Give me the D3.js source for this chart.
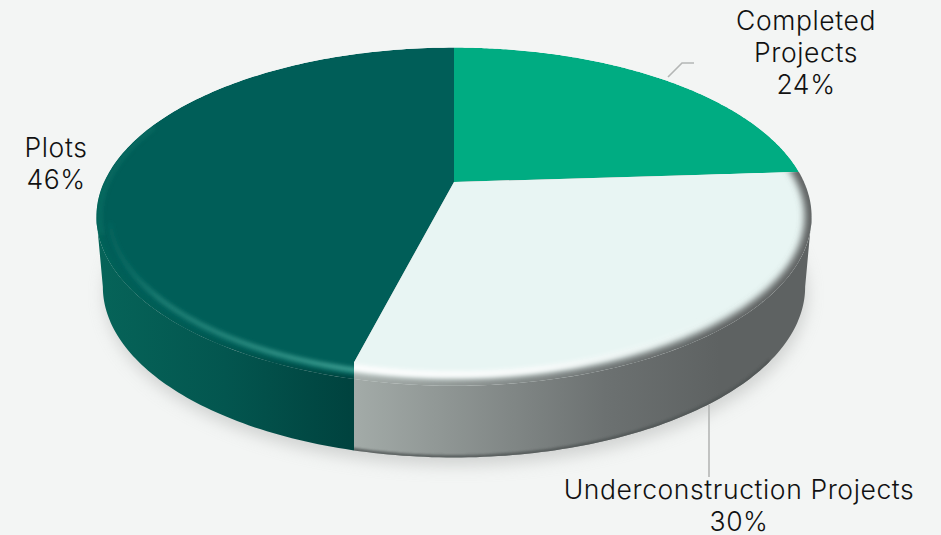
<!DOCTYPE html>
<html>
<head>
<meta charset="utf-8">
<script src="https://cdn.jsdelivr.net/npm/d3@7"></script>
<style>
html,body{margin:0;padding:0;background:#f3f5f4;overflow:hidden}
text{font-family:Inter,"Open Sans",sans-serif;font-weight:300;fill:#111;font-size:26.5px;letter-spacing:.6px}
</style>
</head>
<body>
<svg id="chart" width="941" height="535"></svg>
<script>
// Land-bank split shown as a tilted, bevelled 3D pie
const categories = ["Completed Projects", "Underconstruction Projects", "Plots"];
const shares = [24, 30, 46];
const faceColors = ["#00ac82", "#e8f5f3", "#005e58"];
const labelLines = [["Completed", "Projects", "24%"], ["Underconstruction Projects", "30%"], ["Plots", "46%"]];
const labelAnchors = [[806, 30], [739, 499], [56, 157]];
const leaderLines = [[[668, 77], [682, 63], [694, 63]], [[709, 405], [709, 477]]];

const svg = d3.select("#chart");
const defs = svg.append("defs");

// Perspective projection of the unit disc onto the page
const cx = 454, apexY = 182, tilt = 0.205, spanX = 350, spanY = 162;
const topPoint = (a, r = 1) => {
  const u = r * Math.sin(a), v = -r * Math.cos(a), w = 1 - tilt * v;
  return [cx + spanX * u / w, apexY + spanY * v / w];
};
// Lower rim: same curve, slightly narrower and dropped by the wall height
const basePoint = a => {
  const [x, y] = topPoint(a);
  return [cx + (x - cx) * 0.982, 286 + (y - 216) * 1.01];
};

const pieAngles = d3.pie().value(d => d).sort(null)(shares);
const line = d3.line();
const TAU = Math.PI * 2;
const arcPoints = (f, a0, a1, n = 160) => d3.range(n + 1).map(i => f(a0 + (a1 - a0) * i / n));

// Angles where the projected rim reaches its left and right extremes
const sideAngle = Math.acos(-tilt);

// The bevel turns the front seam vertical: find the outer-rim angle straight below it
const seamAngle = pieAngles[1].endAngle;
const seamInner = topPoint(seamAngle, 0.935);
const seamOuterAngle = d3.least(d3.range(seamAngle - 0.3, seamAngle + 0.3, 0.0005),
  a => Math.abs(topPoint(a)[0] - seamInner[0]));

const apex = [cx, apexY];
const slicePaths = [
  [apex, ...arcPoints(topPoint, pieAngles[0].startAngle, pieAngles[0].endAngle)],
  [apex, ...arcPoints(topPoint, pieAngles[1].startAngle, seamOuterAngle), seamInner],
  [apex, seamInner, ...arcPoints(topPoint, seamOuterAngle, pieAngles[2].endAngle)]
];

const addBlur = (id, dev) => defs.append("filter").attr("id", id)
  .attr("x", "-10%").attr("y", "-15%").attr("width", "120%").attr("height", "130%")
  .append("feGaussianBlur").attr("stdDeviation", dev);
addBlur("soft1", 1.2);
addBlur("soft2", 2.2);
addBlur("soft3", 3.6);
addBlur("soft8", 8);

const addGradient = (id, x1, x2, stops) => {
  const g = defs.append("linearGradient").attr("id", id).attr("gradientUnits", "userSpaceOnUse")
    .attr("x1", x1).attr("x2", x2).attr("y1", 0).attr("y2", 0);
  stops.forEach(([o, c, op = 1]) => g.append("stop").attr("offset", o).attr("stop-color", c).attr("stop-opacity", op));
};
addGradient("wallGreen", 96, seamInner[0], [[0, "#066459"], [0.5, "#03564f"], [1, "#00423e"]]);
addGradient("wallGrey", seamInner[0], 811, [[0, "#a3aba8"], [0.55, "#6c7171"], [0.8, "#5e6262"], [1, "#5e6262"]]);
addGradient("whiteLip", seamInner[0], 720, [[0, "#ffffff", 1], [0.5, "#ffffff", 0.85], [1, "#ffffff", 0]]);
addGradient("greenLip", 110, seamInner[0], [[0, "#1f8074", 0.15], [0.2, "#2c8e82", 0.7], [1, "#45a79a", 1]]);
defs.append("clipPath").attr("id", "wallLeft").append("rect")
  .attr("x", 0).attr("y", 0).attr("width", seamInner[0]).attr("height", 535);
defs.append("clipPath").attr("id", "wallRight").append("rect")
  .attr("x", seamInner[0]).attr("y", 0).attr("width", 941).attr("height", 535);
slicePaths.forEach((p, i) => defs.append("clipPath").attr("id", "face" + i)
  .append("path").attr("d", line(p) + "Z"));

// Soft ground shadow
svg.append("path").attr("d", line(arcPoints(basePoint, 0, TAU)) + "Z")
  .attr("transform", "translate(2,8)").attr("fill", "#b9bbba").attr("opacity", 0.6)
  .attr("filter", "url(#soft8)");

// Cylinder wall: hull between the two rims, from one side extreme round the front to the other
const wallOutline = line([
  ...arcPoints(topPoint, sideAngle, TAU - sideAngle),
  ...arcPoints(basePoint, TAU - sideAngle, sideAngle)
]) + "Z";
svg.append("path").attr("d", wallOutline).attr("fill", "url(#wallGreen)").attr("clip-path", "url(#wallLeft)");
const greyWall = svg.append("g").attr("clip-path", "url(#wallRight)");
greyWall.append("path").attr("d", wallOutline).attr("fill", "url(#wallGrey)");
defs.append("clipPath").attr("id", "wallShape").append("path").attr("d", wallOutline);
greyWall.append("g").attr("clip-path", "url(#wallShape)").append("path")
  .attr("d", line(arcPoints(basePoint, Math.PI * 0.7, Math.PI * 1.15)))
  .attr("fill", "none").attr("stroke", "#4f5454").attr("stroke-width", 5)
  .attr("opacity", 0.8).attr("filter", "url(#soft1)");

// Top face slices with their bevel highlights
slicePaths.forEach((p, i) => {
  const g = svg.append("g").attr("clip-path", `url(#face${i})`);
  g.append("path").attr("d", line(p) + "Z").attr("fill", faceColors[i]);
  if (i === 1) {
    g.append("path").attr("d", line(arcPoints(topPoint, Math.PI * 0.45, Math.PI * 1.2)))
      .attr("fill", "none").attr("stroke", "url(#wallGrey)").attr("stroke-width", 14)
      .attr("filter", "url(#soft3)");
    g.append("path").attr("d", line(arcPoints(a => topPoint(a, 0.955), Math.PI * 0.72, Math.PI * 1.2)))
      .attr("fill", "none").attr("stroke", "url(#whiteLip)").attr("stroke-width", 6)
      .attr("filter", "url(#soft2)");
  }
  if (i === 2) {
    g.append("path").attr("d", line(arcPoints(topPoint, Math.PI * 1.05, Math.PI * 1.5)))
      .attr("fill", "none").attr("stroke", "url(#wallGreen)").attr("stroke-width", 6)
      .attr("filter", "url(#soft2)");
    g.append("path").attr("d", line(arcPoints(a => topPoint(a, 0.965), Math.PI * 1.05, Math.PI * 1.42)))
      .attr("fill", "none").attr("stroke", "url(#greenLip)").attr("stroke-width", 4.5)
      .attr("filter", "url(#soft2)");
    g.append("path").attr("d", line(arcPoints(a => topPoint(a, 0.99), Math.PI * 1.4, Math.PI * 1.62)))
      .attr("fill", "none").attr("stroke", "#15786c").attr("stroke-width", 5).attr("opacity", 0.45)
      .attr("filter", "url(#soft2)");
  }
});

// Leader lines
svg.selectAll(".leader").data(leaderLines).join("path").attr("class", "leader")
  .attr("d", d => line(d)).attr("fill", "none").attr("stroke", "#b4b6b5").attr("stroke-width", 1.6);

// Category labels
const rowStep = 32;
labelLines.forEach((rows, i) => {
  svg.append("text").attr("text-anchor", "middle").selectAll("tspan").data(rows).join("tspan")
    .attr("x", labelAnchors[i][0]).attr("y", (d, j) => labelAnchors[i][1] + j * rowStep).text(d => d);
});
</script>
</body>
</html>
